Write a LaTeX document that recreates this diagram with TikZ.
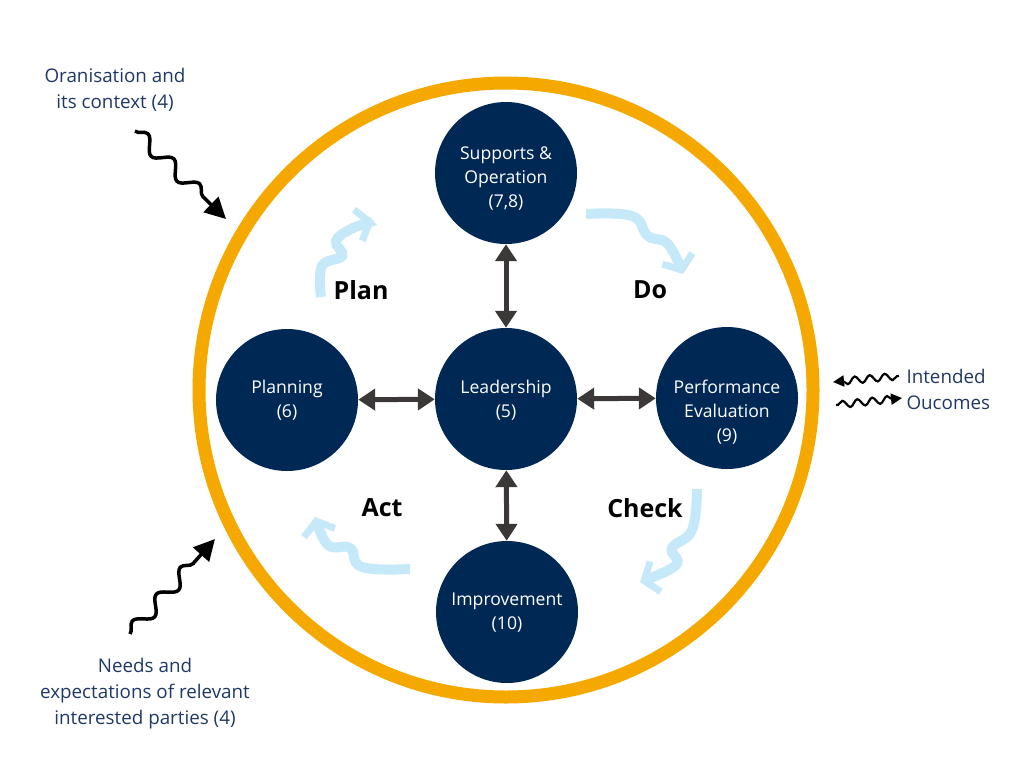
\documentclass[tikz,border=0pt]{standalone}
\usepackage{fontspec}
\setmainfont{Open Sans}
\usetikzlibrary{decorations.pathmorphing,arrows.meta}
\definecolor{navy}{RGB}{0,40,85}
\definecolor{ring}{RGB}{245,168,0}
\definecolor{sky}{RGB}{198,233,250}
\definecolor{ink}{RGB}{31,56,100}
\definecolor{grey}{RGB}{60,56,56}

\begin{document}
\begin{tikzpicture}
  [x=1pt,y=-1pt,
   hub/.style={circle,fill=navy,minimum size=142pt,inner sep=0pt},
   hubtext/.style={text=white,align=center,font=\fontsize{17.6}{24}\selectfont},
   link/.style={grey,line width=5pt,{Triangle[length=17pt,width=21pt]}-{Triangle[length=17pt,width=21pt]}},
   phase/.style={font=\fontsize{25}{28}\selectfont\bfseries},
   note/.style={text=ink,align=center,font=\fontsize{18.8}{26}\selectfont},
   input/.style={line width=3.5pt,-{Triangle[length=21pt,width=21pt]},
     decorate,decoration={snake,amplitude=7pt,segment length=36pt,post length=22pt}},
   output/.style={line width=2.2pt,
     decorate,decoration={snake,amplitude=3.5pt,segment length=15pt,post length=9pt,pre length=2pt}},
   flow/.style={sky,line width=10pt,-{Straight Barb[length=12pt,width=32pt,line width=7pt]}}]
  \useasboundingbox (0,0) rectangle (1024,768);
  \draw[ring,line width=13pt] (506,390) circle (307);

  \node[hub] (supp) at (506,173) {};
  \node[hub] (lead) at (506,399) {};
  \node[hub] (plan) at (287,400) {};
  \node[hub] (perf) at (727,398) {};
  \node[hub] (impr) at (507,612) {};
  \node[hubtext] (supp-t) at (506,179) {Supports \&\\Operation\\(7,8)};
  \node[hubtext] (lead-t) at (506,400) {Leadership\\(5)};
  \node[hubtext] (plan-t) at (287,400) {Planning\\(6)};
  \node[hubtext] (perf-t) at (727,412) {Performance\\Evaluation\\(9)};
  \node[hubtext] (impr-t) at (507,613) {Improvement\\(10)};
  \foreach \from/\to in {lead/supp,lead/plan,lead/perf,lead/impr}
    \draw[link] (\from) -- (\to);

  \node[phase] (p-plan) at (361,290) {Plan};
  \node[phase] (p-do) at (650,290) {Do};
  \node[phase] (p-act) at (382,508) {Act};
  \node[phase] (p-check) at (645,508) {Check};

  \draw[flow] plot[smooth,tension=0.7] coordinates {(321,297) (322,266) (342,256) (336,241) (351,229) (374,221)};
  \draw[flow] plot[smooth,tension=0.7] coordinates {(586,214) (632,216) (648,236) (668,244) (683,274)};
  \draw[flow] plot[smooth,tension=0.7] coordinates {(697,489) (692,530) (672,548) (676,565) (640,582)};
  \draw[flow] plot[smooth,tension=0.7] coordinates {(410,569) (362,567) (350,548) (328,545) (315,517)};

  \node[note] (org) at (115,90) {Oranisation and\\its context (4)};
  \node[note] (needs) at (145,694) {Needs and\\expectations of relevant\\interested parties (4)};
  \node[note,anchor=west,align=left] (outc) at (903,389) {Intended\\Oucomes};

  \coordinate (org-a) at (135,131);
  \coordinate (org-b) at (226,219);
  \coordinate (needs-a) at (130,634);
  \coordinate (needs-b) at (215,539);
  \draw[input] (org-a) -- (org-b);
  \draw[input] (needs-a) -- (needs-b);

  \coordinate (out1-a) at (899,376);
  \coordinate (out1-b) at (833,382);
  \coordinate (out2-a) at (836,405);
  \coordinate (out2-b) at (902,398);
  \draw[output,-{Triangle[length=11pt,width=11pt]}] (out1-a) -- (out1-b);
  \draw[output,-{Triangle[length=11pt,width=11pt]}] (out2-a) -- (out2-b);
\end{tikzpicture}
\end{document}
